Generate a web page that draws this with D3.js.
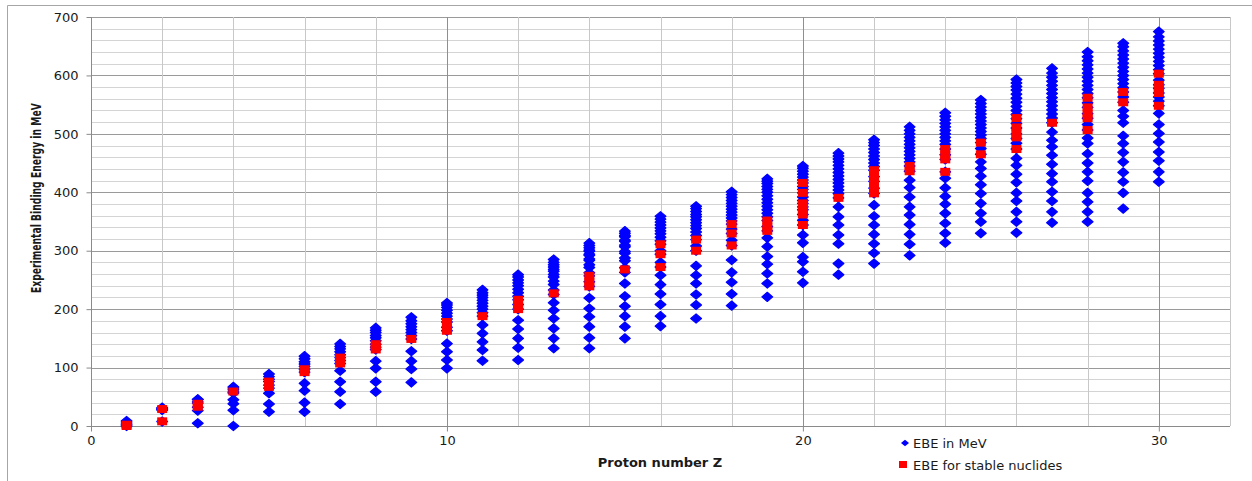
<!DOCTYPE html>
<meta charset="utf-8">
<title>Experimental binding energy vs Z</title>
<style>

body { margin: 0; background: #fff; }
svg text { fill: #1a1a1a; }

</style>
<body>
<script src="https://cdn.jsdelivr.net/npm/d3@7"></script>
<script>

// proton numbers, one column per element
var protonZ = [1, 2, 3, 4, 5, 6, 7, 8, 9, 10,
  11, 12, 13, 14, 15, 16, 17, 18, 19, 20,
  21, 22, 23, 24, 25, 26, 27, 28, 29, 30];

// binding energy (MeV) of every isotope shown, one row per Z
var ebeByZ = [
  [0, 2.2, 5, 8.5],
  [7.7, 27.4, 28.3, 29.3, 30.3, 31.4],
  [4.6, 26.3, 32, 39.2, 41.3, 45.3, 45.6],
  [0, 27, 38, 45, 56.5, 58.2, 62, 65, 67],
  [24.5, 37.6, 56, 64.8, 70, 76.2, 80, 84.5, 89],
  [24.5, 40, 60.5, 73, 92.2, 97.1, 102, 106, 110, 115, 119.5],
  [37.6, 58.7, 75.8, 94.6, 107, 112, 117, 122, 127, 132, 136, 140.5],
  [58.7, 75.8, 98.7, 111, 131, 135, 140, 146, 151, 155, 160, 164, 168],
  [74.6, 97.5, 111, 128, 149, 155, 160, 165, 170, 175, 180, 186],
  [98.7, 113, 127, 141, 163, 169, 178, 183, 188, 193, 198, 203, 207, 210.5],
  [111.7, 130, 144, 158.5, 173, 188, 194, 200, 205, 210, 215, 220, 224, 228, 233],
  [113, 134, 150, 166, 181, 200, 208, 216, 222, 228, 234, 240, 245, 250, 255, 259],
  [133, 150, 167, 184, 198, 211, 225, 232.7, 242.1, 247.9, 255, 259.2, 264.8, 268, 272, 276, 280, 285],
  [133, 151, 170, 187, 201, 219, 239, 247, 257, 262.2, 271.4, 275.9, 283.4, 285.9, 292, 294, 299, 301, 305, 309, 313],
  [150, 170, 188, 205, 222, 244, 262.9, 270.8, 282.7, 287.6, 295.7, 298.8, 306.8, 309.5, 316, 318, 324, 326, 330, 333.5],
  [171, 188, 208, 226, 242, 258, 272, 280, 294, 300, 311, 317, 323, 329, 334, 339, 344, 349, 354, 359],
  [184, 207, 225, 244, 258, 274, 300, 308, 319, 326, 332, 338, 343, 348, 353, 358, 362, 367, 372, 376],
  [206, 226, 246, 263, 284, 309, 318, 329.5, 337, 345.5, 351, 356, 361, 366, 371, 376, 381, 386, 391, 396, 401],
  [221, 244, 261, 277, 290, 307, 322, 334, 341.5, 351.6, 358, 364, 370, 376, 382, 388, 394, 400, 405, 410, 415, 419, 423],
  [245, 264, 281, 289, 313.5, 327, 344, 352, 362, 370, 375, 381, 386, 392, 399, 405, 410, 416, 421, 426, 431, 436, 441, 445],
  [259, 278, 312, 327, 344, 358, 375, 390.5, 398, 404, 410, 416, 422, 428, 434, 440, 446, 452, 457, 462, 467],
  [278, 296, 312, 328, 344, 359, 378, 398.2, 407.1, 418.7, 426.8, 437.8, 444, 450, 456, 462, 468, 474, 480, 485, 490],
  [292, 311, 328, 345, 361, 375, 392, 408, 420.7, 436, 445, 452, 458, 464, 470, 476, 482, 488, 494, 500, 506, 512],
  [313.6, 330, 347, 364, 379.7, 393, 407.6, 424, 435, 456.3, 464.3, 474, 482, 488, 494, 500, 506, 512, 518, 524, 530, 536],
  [330, 349.5, 364, 381, 398, 413, 427.6, 440.7, 452, 465, 475, 485, 492, 498, 504, 510, 516, 522, 528, 534, 540, 546, 552, 558],
  [330.7, 349.5, 366.5, 385, 399, 417, 431, 446, 458, 474, 484, 492, 500, 510, 518, 526, 533, 540, 547, 554, 561, 568, 575, 581, 587, 593],
  [348, 366.5, 385, 401, 418, 432, 448, 463.5, 478, 489, 503, 519, 527, 534, 541, 548, 555, 562, 569, 576, 583, 590, 597, 604, 612],
  [349.5, 366.5, 383.6, 399, 419.5, 435, 450, 466, 483.5, 493, 506.5, 516, 526.8, 534.7, 545.3, 553, 561.8, 569, 576, 583, 590, 597, 604, 611, 618, 625, 632, 640],
  [372, 399, 418, 434, 452, 468, 483.5, 496.5, 519, 530, 540, 554, 563, 571.7, 579, 586, 593, 600, 607, 614, 621, 628, 635, 642, 649, 655],
  [418, 435, 454, 469, 486, 500.5, 516, 535, 548, 556, 563, 570, 578, 584, 592, 603, 610, 617, 624, 631, 638, 645, 652, 659, 666, 675]
];

// binding energy (MeV) of the stable nuclides, one row per Z
var stableByZ = [
  [0, 2.2],
  [8, 29],
  [33, 38],
  [59],
  [67, 76],
  [92.2, 97.1],
  [107, 117],
  [131, 135.5, 140],
  [149],
  [163, 169, 178],
  [188],
  [200, 208, 216],
  [227],
  [239, 247, 257],
  [268],
  [272, 294, 311],
  [300, 319],
  [309, 329.5, 345.5],
  [334, 341.5, 351.6],
  [344, 362, 370, 381, 399, 416],
  [390.5],
  [398.2, 407.1, 418.7, 426.8, 437.8],
  [436, 445],
  [435, 456.3, 464.3, 474],
  [465, 485],
  [474, 494, 501, 511, 527],
  [519],
  [506.5, 526.8, 534.7, 545.3, 561.8],
  [554, 571.7],
  [548, 570, 578, 584, 603]
];

var yTicks = [0, 100, 200, 300, 400, 500, 600, 700],
    xTicks = [0, 10, 20, 30],
    legendLabels = ["EBE in MeV", "EBE for stable nuclides"];

var width = 1252,
    height = 481,
    margin = {top: 17, right: 22, bottom: 55, left: 91};

var x = d3.scaleLinear().domain([0, 32]).range([margin.left, width - margin.right]),
    y = d3.scaleLinear().domain([0, 700]).range([height - margin.bottom, margin.top]);

var svg = d3.select("body").append("svg")
    .attr("width", width)
    .attr("height", height);

// outer chart frame (only top and left edges fall inside the picture)
svg.append("path")
    .attr("d", "M7.5," + height + "V5.5H" + width)
    .attr("fill", "none")
    .attr("stroke", "#a6a6a6");

// grid lines
svg.append("g").selectAll("line")
    .data(d3.range(20, 701, 20))
  .enter().append("line")
    .attr("x1", x(0)).attr("x2", x(32))
    .attr("y1", function(d) { return Math.round(y(d)) + .5; })
    .attr("y2", function(d) { return Math.round(y(d)) + .5; })
    .attr("stroke", function(d) { return d % 100 ? "#d4d4d4" : "#9a9a9a"; });

svg.append("g").selectAll("line")
    .data(d3.range(2, 33, 2))
  .enter().append("line")
    .attr("x1", function(d) { return Math.round(x(d)) + .5; })
    .attr("x2", function(d) { return Math.round(x(d)) + .5; })
    .attr("y1", y(0)).attr("y2", y(700))
    .attr("stroke", function(d) { return d % 10 ? "#c8c8c8" : "#8f8f8f"; });

// axes
var yAxis = d3.axisLeft(y).tickValues(yTicks).tickSize(5).tickPadding(8);
var xAxis = d3.axisBottom(x).tickValues(xTicks).tickSize(5).tickPadding(4);

svg.append("g")
    .attr("transform", "translate(" + (Math.round(x(0)) + .5) + ",0)")
    .call(yAxis)
    .call(function(g) { g.select(".domain").attr("d", "M0," + y(0) + "V" + y(700)); });

svg.append("g")
    .attr("transform", "translate(0," + (Math.round(y(0)) + .5) + ")")
    .call(xAxis)
    .call(function(g) { g.select(".domain").attr("d", "M" + x(0) + ",0H" + x(32)); });

svg.selectAll(".domain, .tick line").attr("stroke", "#8a8a8a");
svg.selectAll(".tick text")
    .attr("font-family", "DejaVu Sans, Verdana, sans-serif")
    .attr("font-size", 13)
    .attr("fill", "#1a1a1a");

// axis titles
var yTitle = svg.append("text")
    .attr("text-anchor", "middle")
    .attr("font-family", "Liberation Sans Narrow, DejaVu Sans Condensed, sans-serif")
    .attr("font-weight", "bold")
    .attr("font-size", 14.5)
    .text("Experimental Binding Energy in MeV");

// squeeze the title along its own direction so it spans about 190px, like the condensed original
var squeeze = Math.min(1, 190 / yTitle.node().getComputedTextLength());
yTitle.attr("transform", "translate(41," + y(390) + ") rotate(-90) scale(" + squeeze + ",1)");

svg.append("text")
    .attr("x", 660)
    .attr("y", 467)
    .attr("text-anchor", "middle")
    .attr("font-family", "DejaVu Sans, Verdana, sans-serif")
    .attr("font-weight", "bold")
    .attr("font-size", 13)
    .text("Proton number Z");

// points
function diamond(w, h) {
  return "M0," + -h + "L" + w + ",0L0," + h + "L" + -w + ",0Z";
}

var allPoints = [], stablePoints = [];
protonZ.forEach(function(z, i) {
  ebeByZ[i].forEach(function(e) { allPoints.push({z: z, e: e}); });
  stableByZ[i].forEach(function(e) { stablePoints.push({z: z, e: e}); });
});

svg.append("g").selectAll("path")
    .data(allPoints)
  .enter().append("path")
    .attr("d", diamond(5.4, 4.6))
    .attr("transform", function(d) { return "translate(" + x(d.z) + "," + y(d.e) + ")"; })
    .attr("fill", "#0000ff")
    .attr("stroke", "#0000ff")
    .attr("stroke-width", 1.2)
    .attr("stroke-linejoin", "round");

svg.append("g").selectAll("rect")
    .data(stablePoints)
  .enter().append("rect")
    .attr("x", function(d) { return x(d.z) - 5; })
    .attr("y", function(d) { return y(d.e) - 4; })
    .attr("width", 10)
    .attr("height", 8)
    .attr("fill", "#ff0000");

// legend
var legend = svg.append("g")
    .attr("font-family", "DejaVu Sans, Verdana, sans-serif")
    .attr("font-size", 13);

legend.append("path")
    .attr("d", diamond(4, 3.2))
    .attr("transform", "translate(905,443)")
    .attr("fill", "#0000ff");

legend.append("rect")
    .attr("x", 899).attr("y", 461)
    .attr("width", 8).attr("height", 7)
    .attr("fill", "#ff0000");

legend.selectAll("text")
    .data(legendLabels)
  .enter().append("text")
    .attr("x", 913)
    .attr("y", function(d, i) { return 448 + i * 22; })
    .text(function(d) { return d; });

</script>
